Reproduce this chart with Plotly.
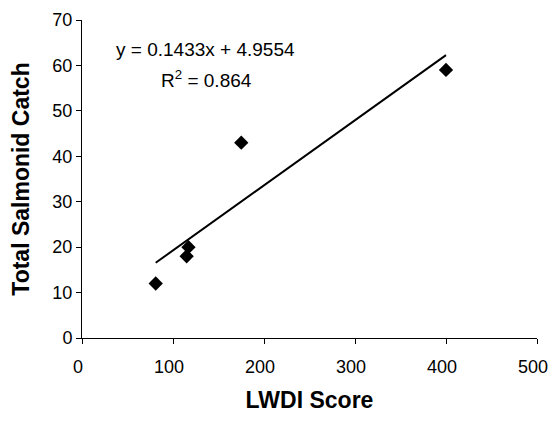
import plotly.graph_objects as go

# Data
lwdi_score = [81, 115, 117, 175, 400]
salmonid_catch = [12, 18, 20, 43, 59]

# Linear trendline shown on chart
slope = 0.1433
intercept = 4.9554
r_squared = 0.864

x_ticks = [0, 100, 200, 300, 400, 500]
y_ticks = [0, 10, 20, 30, 40, 50, 60, 70]

font_family = "Arial, Liberation Sans, sans-serif"

trend_x = [min(lwdi_score), max(lwdi_score)]
trend_y = [slope * v + intercept for v in trend_x]

fig = go.Figure()
fig.add_trace(go.Scatter(
    x=trend_x, y=trend_y, mode="lines",
    line=dict(color="black", width=2), hoverinfo="skip", showlegend=False,
))
fig.add_trace(go.Scatter(
    x=lwdi_score, y=salmonid_catch, mode="markers",
    marker=dict(symbol="diamond", size=11, color="black"),
    showlegend=False,
))

fig.add_annotation(
    xref="paper", yref="paper", x=0.272, y=0.906,
    text=f"y = {slope}x + {intercept}", showarrow=False,
    font=dict(family=font_family, size=19, color="black"),
    xanchor="center", yanchor="middle",
)
fig.add_annotation(
    xref="paper", yref="paper", x=0.274, y=0.815,
    text=f"R<sup>2</sup> = {r_squared}", showarrow=False,
    font=dict(family=font_family, size=19, color="black"),
    xanchor="center", yanchor="middle",
)

# The page body adds an 8px margin, so the figure is sized to fit inside it.
fig.update_layout(
    width=548, height=407,
    margin=dict(l=74, r=19, t=12, b=77),
    paper_bgcolor="white", plot_bgcolor="white",
    font=dict(family=font_family, size=18, color="black"),
    xaxis=dict(
        range=[0, 500], tickvals=x_ticks, ticktext=[str(v) for v in x_ticks],
        showgrid=False, zeroline=False, showline=True, linecolor="black", linewidth=1,
        ticks="outside", ticklen=5, tickcolor="black", automargin=False,
        ticklabelstandoff=7, ticklabelshift=-4,
        title=dict(text="<b>LWDI Score</b>", font=dict(size=23), standoff=16),
    ),
    yaxis=dict(
        range=[0, 70], tickvals=y_ticks, ticktext=[str(v) for v in y_ticks],
        showgrid=False, zeroline=False, showline=True, linecolor="black", linewidth=1,
        ticks="outside", ticklen=5, tickcolor="black", automargin=False,
        title=dict(text="<b>Total Salmonid Catch</b>", font=dict(size=23), standoff=18),
    ),
)

fig.write_html("out.html")
